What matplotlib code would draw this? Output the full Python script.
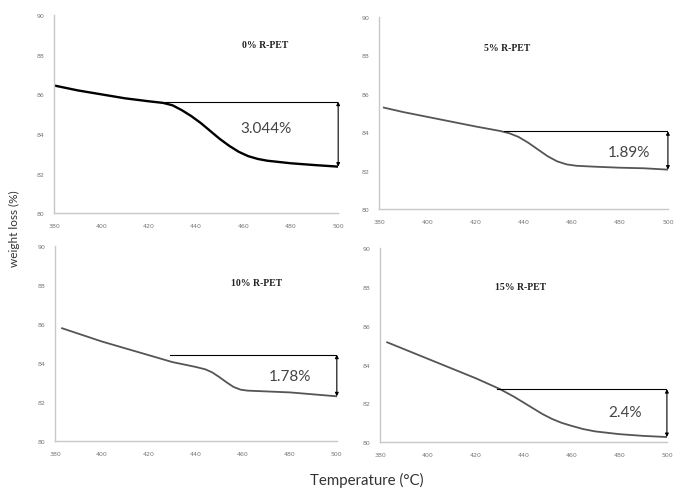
import matplotlib.pyplot as plt

# temperature (C) and weight (%)
t0 = [380, 390, 400, 410, 420, 426, 430, 434, 438, 442, 446, 450, 454, 458, 462, 466, 470, 480, 490, 500]
w0 = [86.45, 86.2, 86.0, 85.8, 85.65, 85.57, 85.45, 85.2, 84.9, 84.55, 84.15, 83.75, 83.4, 83.1, 82.88, 82.74, 82.65, 82.52, 82.43, 82.35]

t5 = [382, 390, 400, 410, 420, 430, 434, 438, 442, 446, 450, 454, 458, 462, 470, 480, 490, 500]
w5 = [85.28, 85.05, 84.8, 84.55, 84.3, 84.07, 83.95, 83.75, 83.45, 83.1, 82.75, 82.48, 82.32, 82.25, 82.2, 82.15, 82.12, 82.05]

t10 = [383, 390, 400, 410, 420, 430, 440, 444, 447, 450, 453, 456, 459, 462, 466, 470, 480, 490, 500]
w10 = [85.78, 85.5, 85.1, 84.75, 84.4, 84.05, 83.8, 83.68, 83.52, 83.28, 83.02, 82.78, 82.64, 82.59, 82.57, 82.55, 82.5, 82.4, 82.3]

t15 = [383, 390, 400, 410, 420, 430, 436, 440, 444, 448, 452, 456, 460, 465, 470, 480, 490, 500]
w15 = [85.15, 84.8, 84.3, 83.8, 83.3, 82.75, 82.35, 82.05, 81.75, 81.45, 81.2, 81.0, 80.85, 80.68, 80.56, 80.42, 80.33, 80.27]

titles = ["0% R-PET", "5% R-PET", "10% R-PET", "15% R-PET"]
losses = ["3.044%", "1.89%", "1.78%", "2.4%"]
# level of the horizontal reference line and where it starts
ref_level = [85.63, 84.05, 84.43, 82.74]
ref_start = [427, 432, 429, 429]

xticks = [380, 400, 420, 440, 460, 480, 500]
yticks = [80, 82, 84, 86, 88, 90]

fig = plt.figure(figsize=(6.75, 4.89), dpi=100)
rects = [[0.080, 0.562, 0.421, 0.405],
         [0.5615, 0.5706, 0.428, 0.3926],
         [0.0815, 0.0955, 0.4175, 0.400],
         [0.563, 0.0935, 0.425, 0.397]]
data = [(t0, w0), (t5, w5), (t10, w10), (t15, w15)]
title_pos = [(469, 88.5), (433.4, 88.4), (465.8, 88.1), (438.6, 88.0)]
loss_pos = [(469.7, 84.32), (484, 82.97), (480, 83.35), (482.5, 81.54)]

for i in range(4):
    ax = fig.add_axes(rects[i])
    t, w = data[i]
    if i == 0:
        ax.plot(t, w, color="black", lw=1.7)
    else:
        ax.plot(t, w, color="#555555", lw=1.3)
    ax.set_xlim(380, 500)
    ax.set_ylim(80, 90)
    ax.set_xticks(xticks)
    ax.set_yticks(yticks)
    ax.tick_params(length=0, labelsize=4.5, colors="#777777", pad=7)
    for s in ["top", "right"]:
        ax.spines[s].set_visible(False)
    for s in ["left", "bottom"]:
        ax.spines[s].set_color("#c8c8c8")
        ax.spines[s].set_linewidth(1.0)
    # reference line + double arrow
    ax.plot([ref_start[i], 500], [ref_level[i], ref_level[i]], color="black", lw=0.8)
    ax.annotate("", xy=(500, w[-1]), xytext=(500, ref_level[i]),
                arrowprops=dict(arrowstyle="<|-|>", color="black", lw=0.8,
                                mutation_scale=5, shrinkA=0, shrinkB=0),
                annotation_clip=False)
    ax.text(title_pos[i][0], title_pos[i][1], titles[i], ha="center", va="center",
            fontsize=7, fontweight="bold", family="Liberation Serif", color="#222222")
    ax.text(loss_pos[i][0], loss_pos[i][1], losses[i], ha="center", va="center",
            fontsize=11, family="Lato", color="#444444")

fig.text(0.022, 0.532, "weight loss (%)", rotation=90, ha="center", va="center",
         fontsize=8.5, family="Lato", color="#333333")
fig.text(0.543, 0.018, "Temperature (°C)", ha="center", va="center",
         fontsize=10.8, family="Lato", color="#333333")

fig.savefig("out.png", dpi=100)
